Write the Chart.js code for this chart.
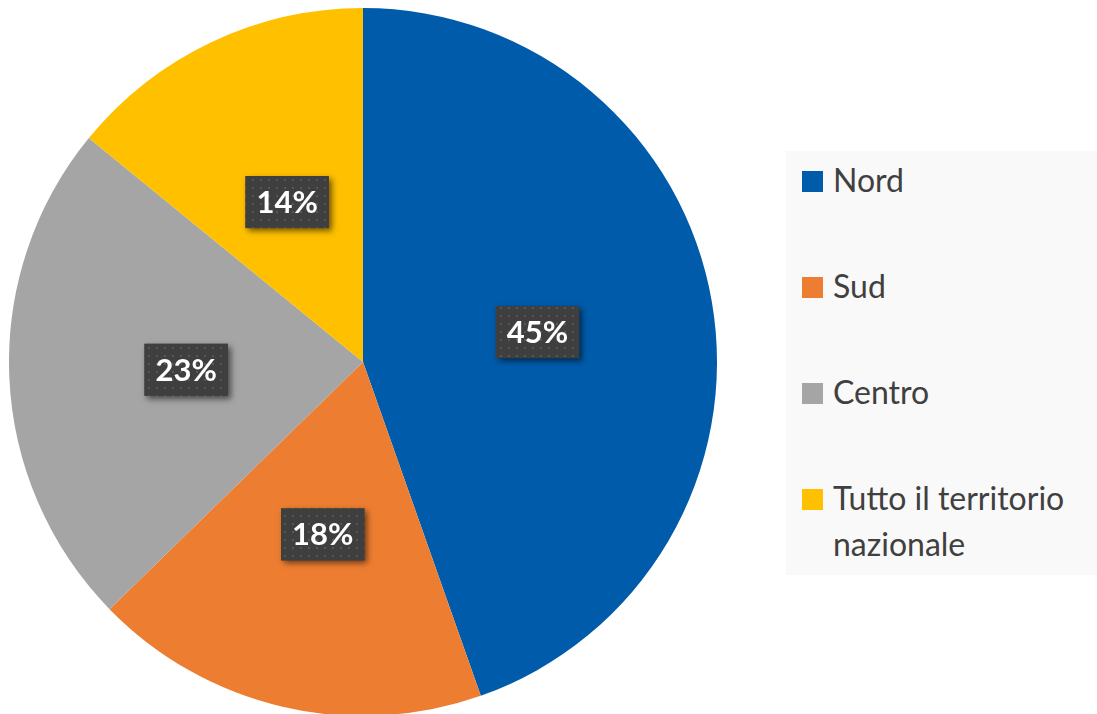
<!DOCTYPE html>
<html>
<head>
<meta charset="utf-8">
<script src="https://cdn.jsdelivr.net/npm/chart.js@4"></script>
<style>
  html, body { margin: 0; padding: 0; background: #ffffff; overflow: hidden; }
  body { width: 1097px; height: 714px; position: relative; font-family: Lato, "Open Sans", sans-serif; }
  #pie-wrap { position: absolute; left: 9px; top: 8px; width: 708px; height: 708px; }
  #legend { position: absolute; left: 786px; top: 151px; width: 311px; height: 424px; background: #f9f9f9; }
  .leg-row { position: absolute; left: 16px; width: 290px; }
  .leg-box { position: absolute; left: 0; top: 14px; width: 21px; height: 21px; }
  .leg-text { position: absolute; left: 31px; width: 262px; font-size: 32px; line-height: 46px; color: #404040; }
</style>
</head>
<body>
<div id="pie-wrap"><canvas id="pie" width="708" height="708"></canvas></div>
<div id="legend"></div>
<script>
// ── Data ──────────────────────────────────────────────────────
const labels = ['Nord', 'Sud', 'Centro', 'Tutto il territorio nazionale'];
const shares = [44.6, 18.1, 23.2, 14.1];
const colors = ['#005BAA', '#ED7D31', '#A5A5A5', '#FFC000'];

// ── Dotted dark pattern for the value boxes ───────────────────
function makePattern(ctx) {
  const p = document.createElement('canvas');
  p.width = 8; p.height = 8;
  const pc = p.getContext('2d');
  pc.fillStyle = '#3f3f3f';
  pc.fillRect(0, 0, 8, 8);
  pc.fillStyle = '#575757';
  pc.fillRect(3, 3, 2, 2);
  return ctx.createPattern(p, 'repeat');
}

// ── Value labels drawn on each slice ──────────────────────────
const valueLabels = {
  id: 'valueLabels',
  afterDatasetsDraw(chart) {
    const ctx = chart.ctx;
    const meta = chart.getDatasetMeta(0);
    const pattern = makePattern(ctx);
    ctx.save();
    ctx.font = 'bold 31px Lato, "Open Sans", sans-serif';
    ctx.textAlign = 'center';
    ctx.textBaseline = 'middle';
    meta.data.forEach(function (arc, i) {
      const pos = arc.tooltipPosition();
      const txt = Math.round(shares[i]) + '%';
      const w = ctx.measureText(txt).width + 22;
      const h = 52;
      const x = pos.x - w / 2, y = pos.y - h / 2;
      // shadow
      ctx.save();
      ctx.shadowColor = 'rgba(0,0,0,0.55)';
      ctx.shadowBlur = 6;
      ctx.shadowOffsetX = 3;
      ctx.shadowOffsetY = 3;
      ctx.fillStyle = '#3f3f3f';
      ctx.fillRect(x, y, w, h);
      ctx.restore();
      ctx.fillStyle = pattern;
      ctx.fillRect(x, y, w, h);
      ctx.fillStyle = '#ffffff';
      ctx.fillText(txt, pos.x, pos.y + 1);
    });
    ctx.restore();
  }
};

new Chart(document.getElementById('pie'), {
  type: 'pie',
  data: {
    labels: labels,
    datasets: [{
      data: shares,
      backgroundColor: colors,
      borderWidth: 0
    }]
  },
  options: {
    responsive: false,
    animation: false,
    layout: { padding: 0 },
    plugins: {
      legend: { display: false },
      tooltip: { enabled: false }
    }
  },
  plugins: [valueLabels]
});

// ── Legend (HTML) ─────────────────────────────────────────────
const legendEl = document.getElementById('legend');
legendEl.innerHTML = labels.map(function (lab, i) {
  return `
    <div class="leg-row" style="top:${6 + i * 106}px">
      <div class="leg-box" style="background:${colors[i]}"></div>
      <div class="leg-text">${lab}</div>
    </div>
  `;
}).join('');
</script>
</body>
</html>
